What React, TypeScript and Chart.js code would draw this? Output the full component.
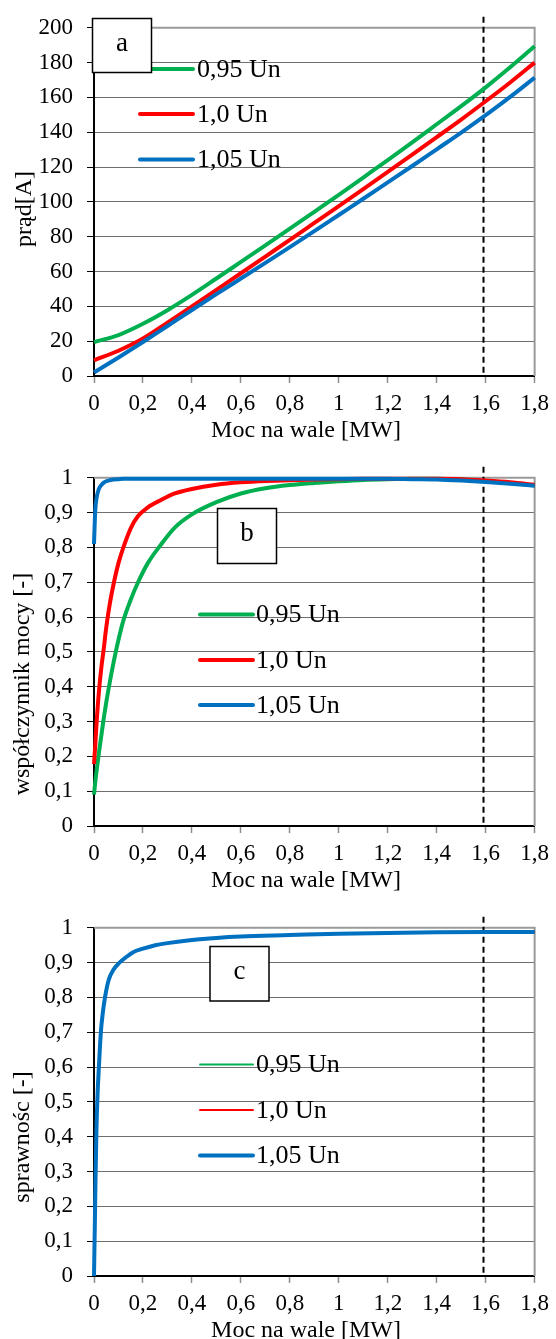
import React, { useEffect, useRef } from "react";
import { Chart, registerables } from "chart.js";

Chart.register(...registerables);

// ---------- data ----------
const seriesLabels = ["0,95 Un", "1,0 Un", "1,05 Un"];
const seriesColors = ["#00b050", "#ff0000", "#0070c0"];

const xTitle = "Moc na wale [MW]";
const ratedPower = 1.588;

// (a) current
const powerA = [0, 0.1, 0.2, 0.3, 0.4, 0.5, 0.6, 0.7, 0.8, 0.9, 1.0, 1.1, 1.2, 1.3, 1.4, 1.5, 1.6, 1.7, 1.8];
const currentGreen = [19.5, 23.5, 30, 37.8, 46.6, 56, 65.5, 75, 84.6, 94.3, 104, 114, 124, 134.2, 144.6, 155, 165.8, 177.3, 189.4];
const currentRed = [9, 14.5, 21.5, 30.6, 40, 49.5, 59, 68.6, 78.2, 87.9, 97.6, 107.4, 117.3, 127.2, 137.2, 147.3, 157.8, 168.6, 180];
const currentBlue = [2, 10.6, 19.5, 28.7, 37.9, 47, 56, 65, 74, 83.2, 92.5, 101.8, 111.2, 120.6, 130.2, 139.8, 149.8, 160.3, 171.4];

// (b) power factor
const powerB = [0, 0.005, 0.01, 0.02, 0.03, 0.04, 0.05, 0.065, 0.08, 0.1, 0.12, 0.15, 0.18, 0.22, 0.27, 0.33, 0.4, 0.5, 0.6, 0.7, 0.8, 0.9, 1.0, 1.1, 1.2, 1.3, 1.4, 1.5, 1.6, 1.7, 1.8];
const pfGreen = [0.09, 0.125, 0.155, 0.21, 0.26, 0.31, 0.355, 0.415, 0.47, 0.535, 0.59, 0.65, 0.7, 0.755, 0.805, 0.857, 0.895, 0.93, 0.955, 0.97, 0.979, 0.985, 0.99, 0.994, 0.996, 0.997, 0.997, 0.995, 0.99, 0.985, 0.978];
const pfRed = [0.178, 0.23, 0.29, 0.385, 0.455, 0.51, 0.57, 0.64, 0.695, 0.755, 0.8, 0.855, 0.89, 0.915, 0.935, 0.955, 0.968, 0.98, 0.987, 0.991, 0.993, 0.995, 0.996, 0.997, 0.997, 0.997, 0.997, 0.996, 0.992, 0.987, 0.98];
const pfBlue = [0.81, 0.905, 0.94, 0.968, 0.979, 0.986, 0.99, 0.993, 0.995, 0.996, 0.997, 0.997, 0.997, 0.997, 0.997, 0.997, 0.997, 0.997, 0.997, 0.997, 0.997, 0.997, 0.997, 0.997, 0.997, 0.996, 0.995, 0.992, 0.988, 0.983, 0.977];

// (c) efficiency
const powerC = [0, 0.003, 0.006, 0.01, 0.015, 0.02, 0.028, 0.035, 0.045, 0.06, 0.08, 0.1, 0.13, 0.16, 0.2, 0.25, 0.3, 0.4, 0.5, 0.6, 0.8, 1.0, 1.2, 1.4, 1.6, 1.8];
const effGreen = [0, 0.14, 0.28, 0.43, 0.54, 0.61, 0.71, 0.76, 0.81, 0.855, 0.884, 0.9, 0.917, 0.931, 0.941, 0.95, 0.956, 0.965, 0.971, 0.975, 0.979, 0.983, 0.985, 0.986, 0.987, 0.987];
const effRed = [0, 0.13, 0.27, 0.42, 0.53, 0.6, 0.7, 0.75, 0.8, 0.85, 0.88, 0.897, 0.915, 0.93, 0.94, 0.95, 0.956, 0.965, 0.971, 0.975, 0.979, 0.983, 0.985, 0.987, 0.988, 0.988];
const effBlue = [0, 0.13, 0.27, 0.42, 0.53, 0.6, 0.7, 0.75, 0.8, 0.85, 0.88, 0.897, 0.915, 0.93, 0.94, 0.95, 0.956, 0.965, 0.971, 0.975, 0.979, 0.983, 0.985, 0.987, 0.988, 0.988];

// ---------- styling / layout ----------
const FONT = "'Liberation Serif', 'Times New Roman', Times, serif";
const W = 556;
const H = 450;

type Panel = {
  letter: string;
  power: number[];
  series: number[][];
  yMax: number;
  yStep: number;
  yTitle: string;
  yTitlePos: [number, number];
  widths: number[];
  legendRows: number[];
  legendLineX: [number, number];
  legendTextX: number;
  box: [number, number, number, number];
};

const panels: Panel[] = [
  {
    letter: "a",
    power: powerA,
    series: [currentGreen, currentRed, currentBlue],
    yMax: 200,
    yStep: 20,
    yTitle: "prąd[A]",
    yTitlePos: [25, 209],
    widths: [4, 4, 4],
    legendRows: [69, 114, 159.5],
    legendLineX: [140, 193],
    legendTextX: 197,
    box: [92.5, 18.5, 59, 54],
  },
  {
    letter: "b",
    power: powerB,
    series: [pfGreen, pfRed, pfBlue],
    yMax: 1,
    yStep: 0.1,
    yTitle: "współczynnik mocy [-]",
    yTitlePos: [23, 234],
    widths: [4, 4, 4],
    legendRows: [164.5, 210, 255],
    legendLineX: [200, 253],
    legendTextX: 256,
    box: [217.5, 58.5, 59, 55],
  },
  {
    letter: "c",
    power: powerC,
    series: [effGreen, effRed, effBlue],
    yMax: 1,
    yStep: 0.1,
    yTitle: "sprawnośc [-]",
    yTitlePos: [23, 237],
    widths: [2, 2, 4],
    legendRows: [164.5, 210, 255.5],
    legendLineX: [200, 253],
    legendTextX: 256,
    box: [210, 46.5, 59, 54.5],
  },
];

function fmt(v: number): string {
  const r = Math.round(v * 10) / 10;
  return String(r).replace(".", ",");
}

function PanelChart({ p }: { p: Panel }) {
  const ref = useRef<HTMLCanvasElement | null>(null);

  useEffect(() => {
    const canvas = ref.current;
    if (!canvas) return;

    const decor = {
      id: "decor",
      beforeDatasetsDraw(chart: any) {
        const { ctx, chartArea: a, scales } = chart;
        ctx.save();
        // top and right frame
        ctx.strokeStyle = "#9a9a9a";
        ctx.lineWidth = 2;
        ctx.beginPath();
        ctx.moveTo(a.left, a.top);
        ctx.lineTo(a.right, a.top);
        ctx.lineTo(a.right, a.bottom);
        ctx.stroke();
        // rated power dashed line
        const x = Math.round(scales.x.getPixelForValue(ratedPower)) + 0.5;
        ctx.strokeStyle = "#000";
        ctx.lineWidth = 2;
        ctx.setLineDash([6, 4]);
        ctx.beginPath();
        ctx.moveTo(x, a.top - 11);
        ctx.lineTo(x, a.bottom);
        ctx.stroke();
        ctx.restore();
      },
      afterDraw(chart: any) {
        const { ctx } = chart;
        ctx.save();
        // legend
        chart.data.datasets.forEach((ds: any, i: number) => {
          const y = p.legendRows[i];
          ctx.strokeStyle = ds.borderColor;
          ctx.lineWidth = ds.borderWidth;
          ctx.lineCap = "round";
          ctx.beginPath();
          ctx.moveTo(p.legendLineX[0], y);
          ctx.lineTo(p.legendLineX[1], y);
          ctx.stroke();
          ctx.fillStyle = "#000";
          ctx.font = `26px ${FONT}`;
          ctx.textAlign = "left";
          ctx.textBaseline = "middle";
          ctx.fillText(ds.label, p.legendTextX, y + 1);
        });
        // panel letter box
        const [bx, by, bw, bh] = p.box;
        ctx.fillStyle = "#fff";
        ctx.fillRect(bx, by, bw, bh);
        ctx.strokeStyle = "#000";
        ctx.lineWidth = 1.5;
        ctx.lineCap = "butt";
        ctx.strokeRect(bx, by, bw, bh);
        ctx.fillStyle = "#000";
        ctx.font = `27px ${FONT}`;
        ctx.textAlign = "center";
        ctx.textBaseline = "middle";
        ctx.fillText(p.letter, bx + bw / 2, by + bh / 2 - 2);
        // x title
        ctx.font = `24px ${FONT}`;
        ctx.fillText(xTitle, 306, 431);
        // y title
        ctx.translate(p.yTitlePos[0], p.yTitlePos[1]);
        ctx.rotate(-Math.PI / 2);
        ctx.fillText(p.yTitle, 0, 0);
        ctx.restore();
      },
    };

    const orders = [2, 1, 0];
    const chart = new Chart(canvas, {
      type: "line",
      data: {
        datasets: p.series.map((vals, i) => ({
          label: seriesLabels[i],
          data: vals.map((v, k) => ({ x: p.power[k], y: v })),
          borderColor: seriesColors[i],
          backgroundColor: seriesColors[i],
          borderWidth: p.widths[i],
          pointRadius: 0,
          cubicInterpolationMode: "monotone",
          fill: false,
          clip: false,
          order: orders[i],
        })),
      },
      options: {
        animation: false,
        responsive: false,
        devicePixelRatio: 1,
        layout: { padding: { left: 0, right: 18, top: 22, bottom: 0 } },
        plugins: { legend: { display: false }, tooltip: { enabled: false } },
        scales: {
          x: {
            type: "linear",
            min: 0,
            max: 1.8,
            afterFit: (s: any) => {
              s.height = 74;
            },
            ticks: {
              stepSize: 0.2,
              autoSkip: false,
              maxRotation: 0,
              padding: 7,
              color: "#000",
              font: { family: FONT, size: 23 },
              callback: (v: any) => fmt(Number(v)),
            },
            grid: {
              drawOnChartArea: false,
              drawTicks: true,
              tickLength: 7,
              tickColor: "#8c8c8c",
              tickWidth: 1.5,
            },
            border: { display: true, color: "#000", width: 2 },
          },
          y: {
            type: "linear",
            min: 0,
            max: p.yMax,
            afterFit: (s: any) => {
              s.width = 94;
            },
            ticks: {
              stepSize: p.yStep,
              padding: 14,
              color: "#000",
              font: { family: FONT, size: 23 },
              callback: (v: any) => fmt(Number(v)),
            },
            grid: {
              color: "#6e6e6e",
              lineWidth: 1,
              tickLength: 7,
              tickColor: "#000",
            },
            border: { display: true, color: "#000", width: 2 },
          },
        },
      } as any,
      plugins: [decor],
    });

    return () => chart.destroy();
  }, [p]);

  return <canvas ref={ref} width={W} height={H} style={{ display: "block", width: W, height: H }} />;
}

export default function App() {
  return (
    <div
      style={{
        position: "absolute",
        left: 0,
        top: 0,
        width: W,
        height: 1339,
        overflow: "hidden",
        background: "#fff",
      }}
    >
      {panels.map((p) => (
        <PanelChart key={p.letter} p={p} />
      ))}
    </div>
  );
}
